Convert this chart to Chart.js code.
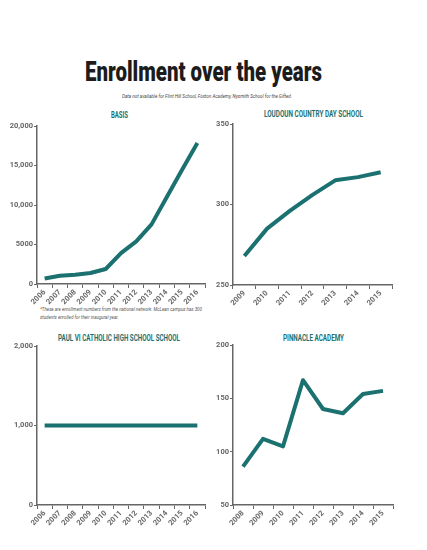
<!DOCTYPE html>
<html>
<head>
<meta charset="utf-8">
<script src="https://cdn.jsdelivr.net/npm/chart.js@4"></script>
<style>
body{margin:0;background:#fff;width:427px;height:550px;position:relative;overflow:hidden;font-family:Roboto,"Noto Sans",sans-serif}
.box{position:absolute}
.fit{position:absolute;white-space:nowrap}
.fit span{display:inline-block;transform-origin:0 50%}
.ttl{font-weight:900;font-size:28px;line-height:30px;color:#1c1c1c}
.sub{font-style:italic;font-size:6px;line-height:7px;color:#444}
.ct{font-weight:bold;font-size:8.5px;line-height:10px;color:#1b7170}
.note{position:absolute;font-style:italic;font-size:6px;line-height:8px;color:#555;white-space:nowrap}
.note span{display:block;transform-origin:0 50%}
</style>
</head>
<body>
<!-- data-x: left edge, data-w: target width, data-y: vertical centre -->
<div class="fit ttl" data-x="85" data-w="237" data-y="72"><span>Enrollment over the years</span></div>
<div class="fit sub" data-x="122" data-w="170" data-y="95"><span>Data not available for Flint Hill School, Foxton Academy, Nysmith School for the Gifted.</span></div>

<div class="fit ct" data-x="111" data-w="17" data-y="114.5"><span>BASIS</span></div>
<div class="fit ct" data-x="264" data-w="99" data-y="114"><span>LOUDOUN COUNTRY DAY SCHOOL</span></div>
<div class="fit ct" data-x="58" data-w="122" data-y="338"><span>PAUL VI CATHOLIC HIGH SCHOOL SCHOOL</span></div>
<div class="fit ct" data-x="283" data-w="61" data-y="338"><span>PINNACLE ACADEMY</span></div>

<div class="note" id="note" style="left:40px;top:305px">
  <span>*These are enrollment numbers from the national network. McLean campus has 300</span>
  <span>students enrolled for their inaugural year.</span>
</div>

<div class="box" style="left:0;top:120px;width:215px;height:190px"><canvas id="c1"></canvas></div>
<div class="box" style="left:215px;top:118px;width:212px;height:190px"><canvas id="c2"></canvas></div>
<div class="box" style="left:0;top:340px;width:215px;height:190px"><canvas id="c3"></canvas></div>
<div class="box" style="left:215px;top:339px;width:212px;height:190px"><canvas id="c4"></canvas></div>

<script>
// ── data ──
const basisYears=['2006','2007','2008','2009','2010','2011','2012','2013','2014','2015','2016'];
const basisVals=[700,1050,1180,1390,1900,3900,5400,7550,11000,14450,17850];
const basisTicks=['0','5000','10,000','15,000','20,000'];

const loudounYears=['2009','2010','2011','2012','2013','2014','2015'];
const loudounVals=[268,285,296,306,315,317,320];
const loudounTicks=['250','300','350'];

const paulYears=['2006','2007','2008','2009','2010','2011','2012','2013','2014','2015','2016'];
const paulVals=[1000,1000,1000,1000,1000,1000,1000,1000,1000,1000,1000];
const paulTicks=['0','1,000','2,000'];

const pinnYears=['2008','2009','2010','2011','2012','2013','2014','2015'];
const pinnVals=[86,112,105,167,140,136,154,157];
const pinnTicks=['50','100','150','200'];

const TEAL='#1b7170', GRAY='#666';
const FONT='Roboto,"Noto Sans",sans-serif';

// squeeze the HTML texts to the narrow widths of the print
document.querySelectorAll('.fit').forEach(el=>{
  const sp=el.querySelector('span');
  const w=sp.getBoundingClientRect().width, h=el.getBoundingClientRect().height;
  sp.style.transform=`scaleX(${(+el.dataset.w)/w})`;
  el.style.left=el.dataset.x+'px';
  el.style.top=(+el.dataset.y-h/2)+'px';
});
(()=>{
  const n=document.getElementById('note'), l=n.querySelectorAll('span');
  const k=162/l[0].getBoundingClientRect().width;
  l.forEach(s=>s.style.transform=`scaleX(${k})`);
})();

function mk(id,labels,vals,min,max,step,tickLbls,yW,xH,pad){
  return new Chart(document.getElementById(id),{
    type:'line',
    data:{labels,datasets:[{data:vals,borderColor:TEAL,borderWidth:4,pointRadius:0,tension:0,borderJoinStyle:'round',borderCapStyle:'butt'}]},
    options:{
      responsive:true,maintainAspectRatio:false,animation:false,
      layout:{padding:pad},
      plugins:{legend:{display:false},tooltip:{enabled:false}},
      scales:{
        x:{offset:true,
          grid:{offset:true,drawOnChartArea:false,drawTicks:true,tickLength:4,color:GRAY,lineWidth:1},
          border:{display:true,color:GRAY,width:1.5},
          ticks:{color:GRAY,font:{family:FONT,size:7.5,weight:'bold'},minRotation:45,maxRotation:45,padding:0,autoSkip:false},
          afterFit:s=>{s.height=xH;}},
        y:{min,max,
          grid:{drawOnChartArea:false,drawTicks:true,tickLength:3,color:GRAY,lineWidth:1},
          border:{display:true,color:GRAY,width:1.5},
          ticks:{stepSize:step,color:GRAY,font:{family:FONT,size:7.5,weight:'bold'},padding:1,
            callback:(v,i)=>tickLbls[i]},
          afterFit:s=>{s.width=yW;}}
      }
    }
  });
}

mk('c1',basisYears,basisVals,0,20000,5000,basisTicks,37,26,{top:6,right:10,left:0,bottom:0});
mk('c2',loudounYears,loudounVals,250,350,50,loudounTicks,18,23,{top:6,right:35,left:0,bottom:0});
mk('c3',paulYears,paulVals,0,2000,1000,paulTicks,37,25,{top:6,right:10,left:0,bottom:0});
mk('c4',pinnYears,pinnVals,50,200,50,pinnTicks,18,24,{top:6,right:34,left:0,bottom:0});
</script>
</body>
</html>
